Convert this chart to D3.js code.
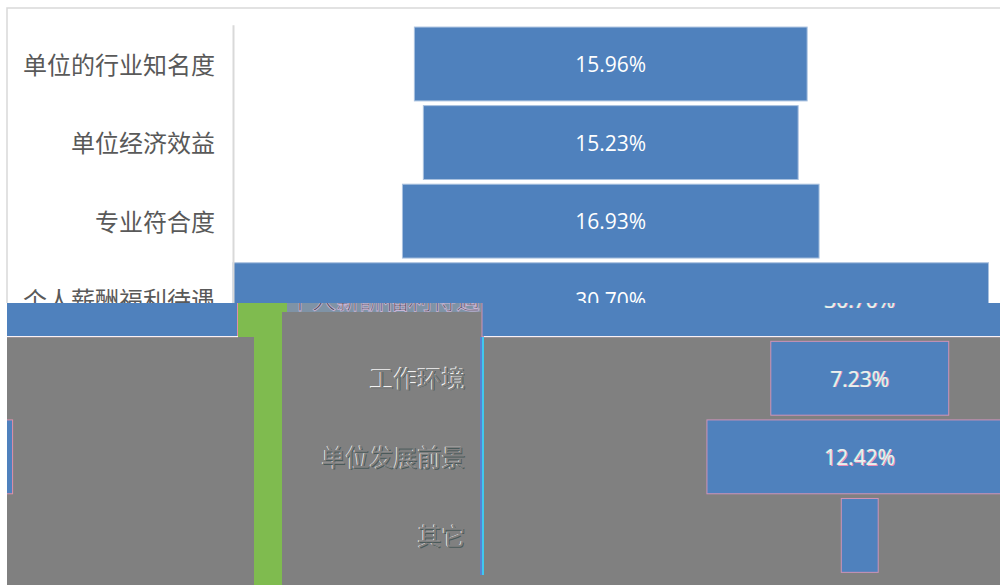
<!DOCTYPE html>
<html lang="zh-CN">
  <head>
    <meta charset="UTF-8" />
    <title>funnel</title>
    <style>
      body { margin: 0; background: #fff; }
      svg { display: block; }
      text { font-family: "Noto Sans CJK SC", sans-serif; }
      .val { font-family: "Open Sans", sans-serif; }
    </style>
  </head>
  <body>
    <svg width="1000" height="585"></svg>
    <script src="https://d3js.org/d3.v7.min.js"></script>
    <script>
      var categories = ["单位的行业知名度", "单位经济效益", "专业符合度", "个人薪酬福利待遇", "工作环境", "单位发展前景", "其它"];
      var values = [15.96, 15.23, 16.93, 30.7, 7.23, 12.42, 1.5];
      // the last bar has no label in the picture
      var valueLabels = ["15.96%", "15.23%", "16.93%", "30.70%", "7.23%", "12.42%", ""];

      var svg = d3.select("svg");
      var blue = "#4f81bd", gray = "#808080", green = "#7fbb4f";
      var tearY = 303, shift = 249;

      var maxV = d3.max(values);
      var x = d3.scaleLinear().domain([-maxV / 2, maxV / 2]).range([233, 988.5]);
      var y = d3.scaleBand().domain(categories).range([24.7, 574.7]).paddingInner(0.06).paddingOuter(0.03);

      var defs = svg.append("defs");
      defs.append("clipPath").attr("id", "upper").append("rect").attr("x", 0).attr("y", 0).attr("width", 1000).attr("height", tearY);
      defs.append("clipPath").attr("id", "lower").append("rect").attr("x", 7).attr("y", tearY).attr("width", 993).attr("height", 585 - tearY);
      defs.append("clipPath").attr("id", "strip").append("rect").attr("x", 287).attr("y", tearY).attr("width", 194).attr("height", 9);

      function drawBars(g, stroke) {
        g.selectAll("rect.bar")
          .data(values)
          .enter()
          .append("rect")
          .attr("class", "bar")
          .attr("x", function(d) { return x(-d / 2); })
          .attr("width", function(d) { return x(d / 2) - x(-d / 2); })
          .attr("y", function(d, i) { return y(categories[i]); })
          .attr("height", y.bandwidth())
          .attr("fill", blue)
          .attr("stroke", stroke);
      }

      function drawValues(g, fill, dx, dy) {
        g.append("g")
          .selectAll("text")
          .data(values)
          .enter()
          .append("text")
          .attr("class", "val")
          .attr("x", x(0) + dx)
          .attr("y", function(d, i) { return y(categories[i]) + y.bandwidth() / 2 + 1 + dy; })
          .attr("dy", "0.35em")
          .attr("text-anchor", "middle")
          .attr("font-size", 21)
          .attr("fill", fill)
          .text(function(d, i) { return valueLabels[i]; });
      }

      function drawAxis(g, dx, dy, fill, line) {
        var axis = g.append("g")
          .attr("transform", "translate(" + (233 + dx) + "," + dy + ")")
          .call(d3.axisLeft(y).tickSize(0).tickPadding(18));
        axis.select(".domain").attr("stroke", line).attr("stroke-width", 2);
        axis.selectAll("text")
          .attr("dy", "0.4em")
          .attr("font-size", 24)
          .attr("font-family", '"Noto Sans CJK SC", sans-serif')
          .attr("fill", fill);
        return axis;
      }

      // top part, drawn straight
      var upper = svg.append("g").attr("clip-path", "url(#upper)");
      upper.append("rect").attr("x", 7).attr("y", 8).attr("width", 1000).attr("height", 600)
        .attr("fill", "#fff").attr("stroke", "#d9d9d9").attr("stroke-width", 1.5);
      drawBars(upper, "#a9c1df");
      drawValues(upper, "#fff", 0, 0);
      drawAxis(upper, 0, 0, "#595959", "#d9d9d9");

      // torn part: same chart moved right and wrapped round, on gray
      var lower = svg.append("g").attr("clip-path", "url(#lower)");
      lower.append("rect").attr("x", 0).attr("y", tearY).attr("width", 1000).attr("height", 585 - tearY).attr("fill", gray);
      lower.append("rect").attr("x", 238).attr("y", tearY).attr("width", 49).attr("height", 9).attr("fill", green);
      lower.append("rect").attr("x", 238).attr("y", tearY + 9).attr("width", 44).attr("height", 25).attr("fill", green);
      lower.append("rect").attr("x", 254).attr("y", 337).attr("width", 28).attr("height", 248).attr("fill", green);

      // row of broken label pixels just below the tear
      lower.append("rect").attr("x", 287).attr("y", tearY).attr("width", 194).attr("height", 9).attr("fill", "#7f93a6");
      lower.append("text")
        .attr("clip-path", "url(#strip)")
        .attr("x", 480).attr("y", y(categories[3]) + y.bandwidth() / 2).attr("dy", "0.4em")
        .attr("text-anchor", "end").attr("font-size", 24)
        .attr("fill", "#4a4a55").attr("stroke", "#c9b6d6").attr("stroke-width", 0.8)
        .text(categories[3]);

      drawBars(lower.append("g").attr("transform", "translate(" + shift + ",0)"), "#cf93b8");
      drawBars(lower.append("g").attr("transform", "translate(" + (shift - 1000) + ",0)"), "#e08fa8");

      // white edge under the wide bar
      var wideBottom = y(categories[3]) + y.bandwidth();
      lower.append("line").attr("x1", 7).attr("x2", 238).attr("y1", wideBottom).attr("y2", wideBottom).attr("stroke", "#fff");
      lower.append("line").attr("x1", 484).attr("x2", 1000).attr("y1", wideBottom).attr("y2", wideBottom).attr("stroke", "#fff");

      // embossed look of the text in this part
      drawValues(lower, "#f08fb8", shift + 0.6, 0.4);
      drawValues(lower, "#7fe0d8", shift - 0.5, 0);
      drawValues(lower, "#eeeeee", shift, 0);

      function embossed(dx, dy, fill) {
        var a = drawAxis(lower, shift + 1.5 + dx, dy, fill, "none");
        a.selectAll(".tick").filter(function(d) { return d === categories[3]; }).remove();
      }
      embossed(-0.7, -0.5, "#f2f2f2");
      embossed(0.7, 0.6, "#4a5a5a");
      embossed(0, 0, gray);

      lower.append("line").attr("x1", 481).attr("x2", 481).attr("y1", 337).attr("y2", 575).attr("stroke", "#5a82d0").attr("stroke-width", 2);
      lower.append("line").attr("x1", 483).attr("x2", 483).attr("y1", 337).attr("y2", 575).attr("stroke", "#3fc8f0").attr("stroke-width", 2);
    </script>
  </body>
</html>
